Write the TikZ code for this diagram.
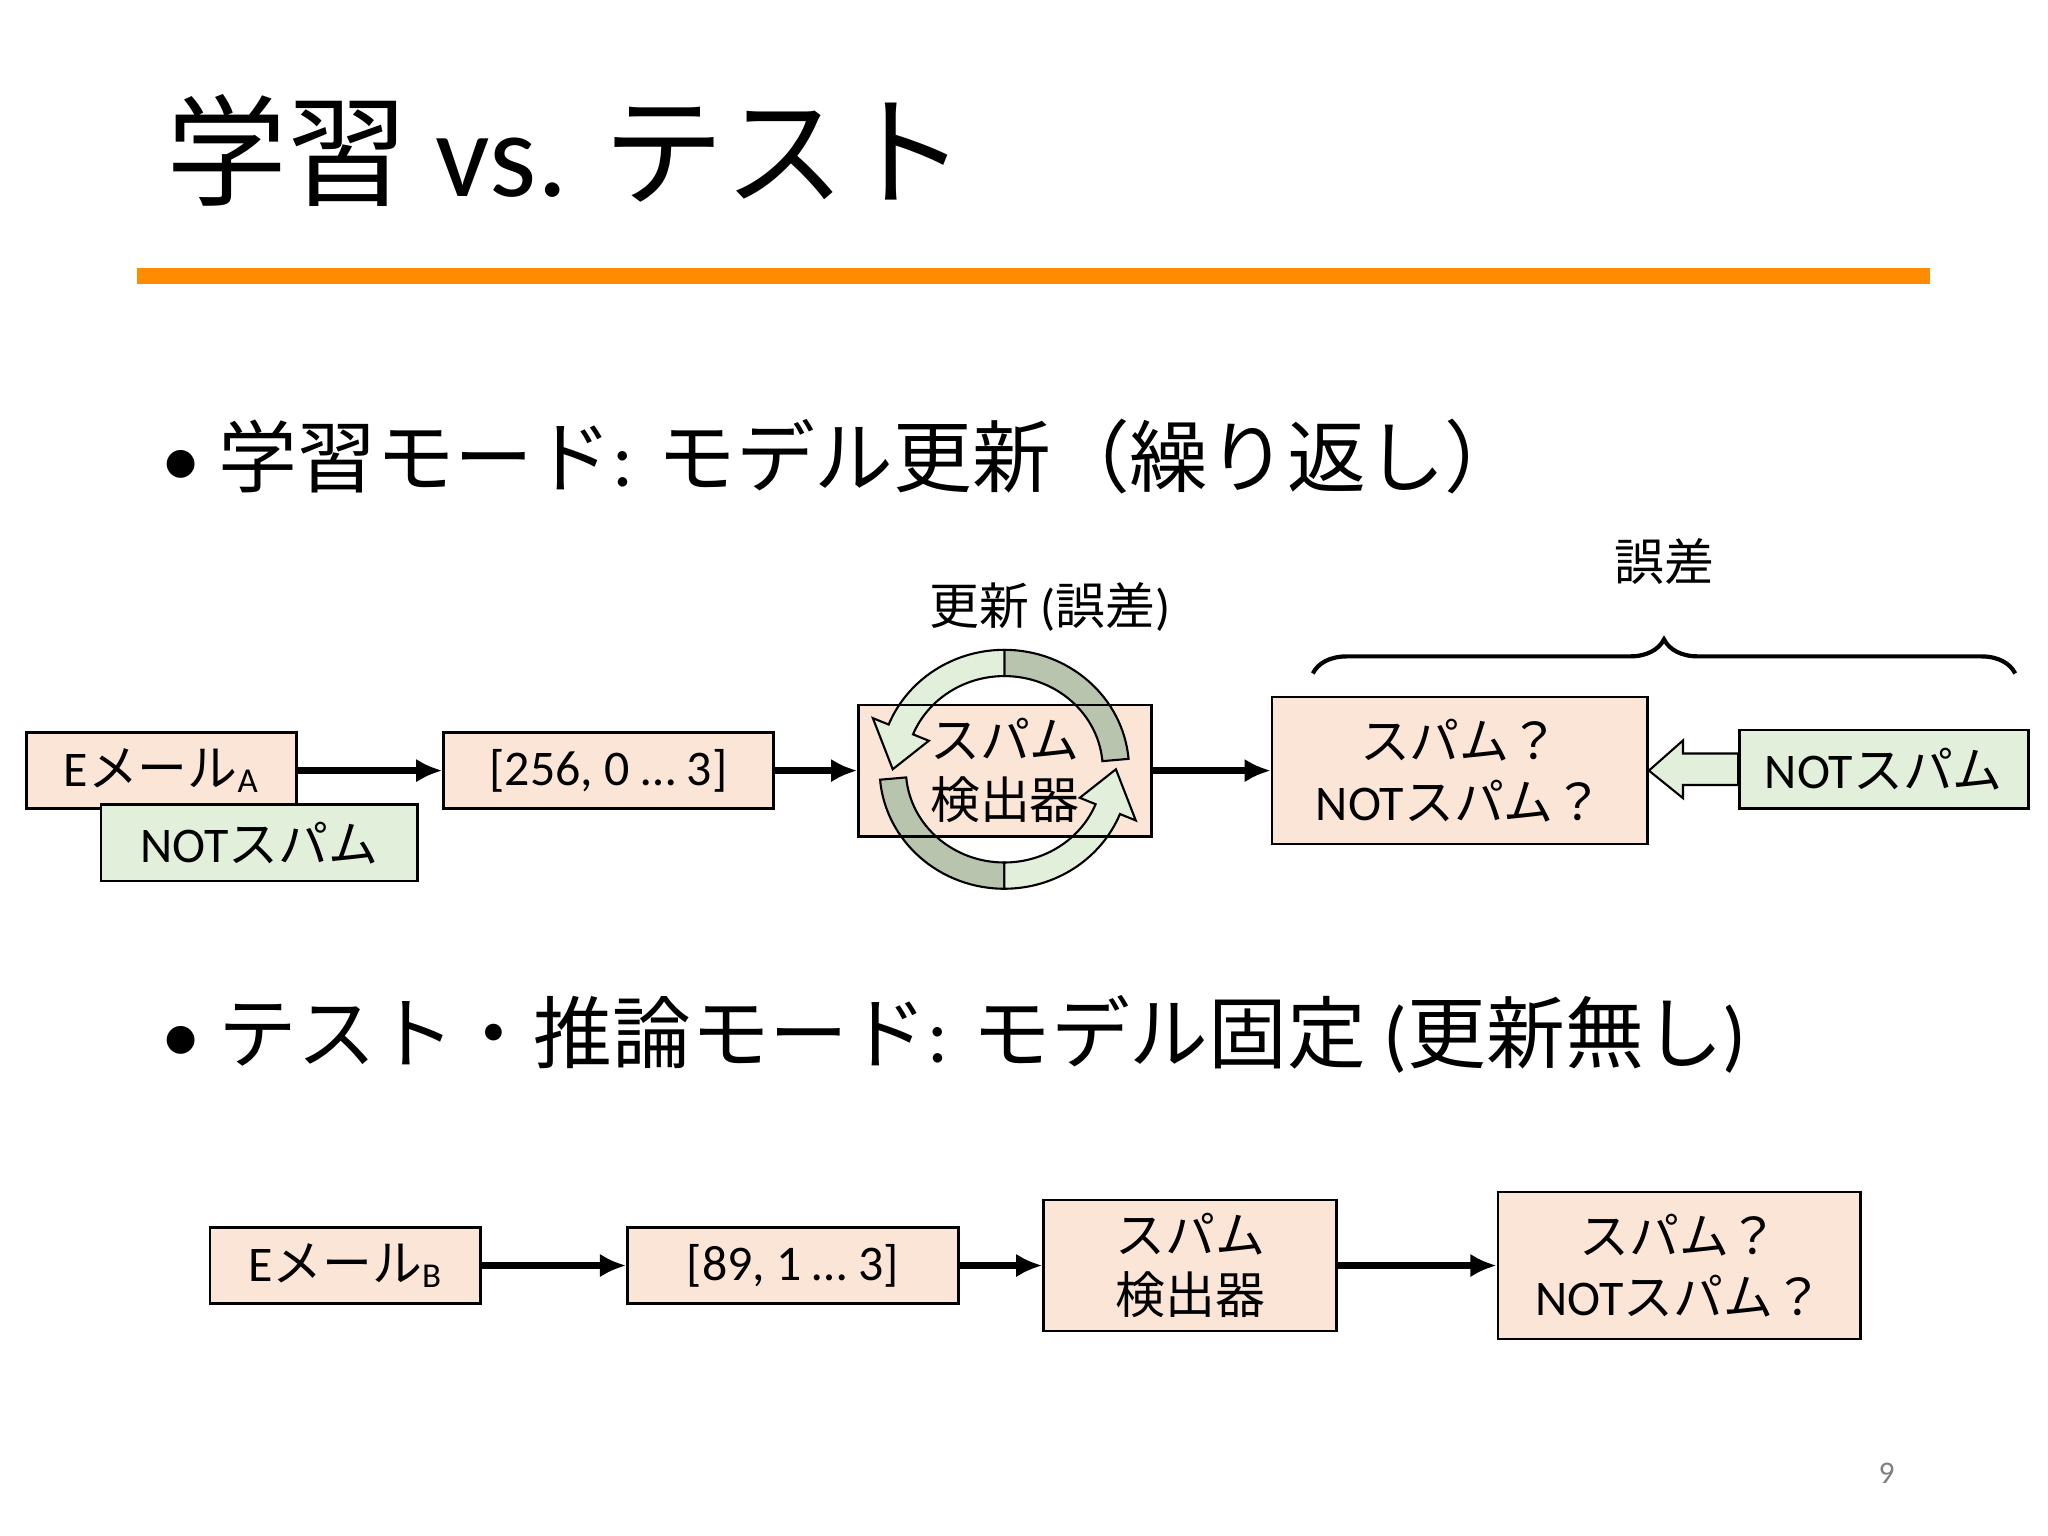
\documentclass[tikz,border=0pt]{standalone}
\usepackage{fontspec}
\setmainfont{Carlito}
\newfontfamily\jp{Noto Sans CJK JP}
\usetikzlibrary{calc,decorations.pathreplacing,arrows.meta}
\definecolor{peach}{RGB}{251,229,214}
\definecolor{leaf}{RGB}{226,239,218}
\definecolor{darkleaf}{RGB}{184,196,174}
\definecolor{rule}{RGB}{255,140,0}
\begin{document}
\begin{tikzpicture}[x=0.5pt,y=0.5pt,
  box/.style={draw, line width=1pt, inner sep=0pt, align=center, font=\fontsize{19}{23}\selectfont},
  pbox/.style={box, fill=peach},
  gbox/.style={box, fill=leaf},
  arr/.style={line width=2.6pt, -{Latex[length=10pt,width=9pt]}},
  band/.style={draw, line width=0.8pt}]
\useasboundingbox (0,0) rectangle (1560,1170);
% title and rule
\node[anchor=west, font=\fontsize{46}{50}\selectfont] (title) at (120,1055) {{\jp 学習} vs. {\jp テスト}};
\fill[rule] (104,954) rectangle (1470,966);
% bullets
\node[anchor=west, font=\fontsize{30}{35}\selectfont] (b1) at (116,822)
  {• {\jp 学習モード}: {\jp モデル更新（繰り返し）}};
\node[anchor=west, font=\fontsize{30}{35}\selectfont] (b2) at (116,382)
  {• {\jp テスト・推論モード}: {\jp モデル固定} ({\jp 更新無し})};
% learning row
\node[pbox, minimum width=103pt, minimum height=29pt] (ea) at (123,583) {E{\jp メール}$_{\mathrm{A}}$};
\node[gbox, minimum width=120.5pt, minimum height=29pt] (na) at (197.5,528) {NOT{\jp スパム}};
\node[pbox, minimum width=125.5pt, minimum height=29pt] (v1) at (463.5,583) {[256, 0 … 3]};
\fill[peach] (654,533) rectangle (877,633);
% update cycle
\coordinate (C) at (765,584);
\foreach \r in {0,180}{
  \filldraw[band, fill=darkleaf] ($(C)+(5+\r:95 and 91)$) arc[start angle=5+\r,end angle=90+\r,x radius=95,y radius=91]
    -- ($(C)+(90+\r:75 and 71)$) arc[start angle=90+\r,end angle=5+\r,x radius=75,y radius=71] -- cycle;
  \filldraw[band, fill=leaf] ($(C)+(90+\r:95 and 91)$) arc[start angle=90+\r,end angle=158+\r,x radius=95,y radius=91]
    -- ($(C)+(158+\r:108 and 104)$) -- ($(C)+(180+\r:85 and 81)$) -- ($(C)+(158+\r:62 and 58)$)
    -- ($(C)+(158+\r:75 and 71)$) arc[start angle=158+\r,end angle=90+\r,x radius=75,y radius=71] -- cycle;
}
\node[box, minimum width=111.5pt, minimum height=50pt] (d1) at (765.5,583) {{\jp スパム}\\{\jp 検出器}};
\node[font=\fontsize{19}{23}\selectfont] (upd) at (800,708) {{\jp 更新} ({\jp 誤差})};
\node[pbox, minimum width=143pt, minimum height=56pt] (o1) at (1112,583) {{\jp スパム？}\\NOT{\jp スパム？}};
\node[gbox, minimum width=110pt, minimum height=30pt] (n2) at (1435,584) {NOT{\jp スパム}};
\draw[arr] (ea.east |- 0,583) -- (v1.west);
\draw[arr] (v1) -- (d1);
\draw[arr] (d1) -- (o1);
% hollow feedback arrow
\filldraw[fill=leaf, line width=0.8pt] (n2.west |- 0,572) -- (1282,572) -- (1282,562) -- (o1.east)
  -- (1282,606) -- (1282,596) -- (n2.west |- 0,596) -- cycle;
% error brace
\coordinate (bl) at (1000,657);
\coordinate (br) at (1535,657);
\draw[line width=1.6pt, decorate, decoration={brace, amplitude=13pt}] (bl) -- (br);
\node[font=\fontsize{19}{23}\selectfont] (err) at (1268,742) {\jp 誤差};
% test row
\node[pbox, minimum width=103pt, minimum height=29pt] (eb) at (263,206) {E{\jp メール}$_{\mathrm{B}}$};
\node[pbox, minimum width=126pt, minimum height=29pt] (v2) at (604,206) {[89, 1 … 3]};
\node[pbox, minimum width=111.5pt, minimum height=50pt] (d2) at (906.5,206) {{\jp スパム}\\{\jp 検出器}};
\node[pbox, minimum width=138pt, minimum height=56pt] (o2) at (1279,206) {{\jp スパム？}\\NOT{\jp スパム？}};
\draw[arr] (eb) -- (v2);
\draw[arr] (v2) -- (d2);
\draw[arr] (d2) -- (o2);
% page number
\node[text=gray, font=\fontsize{12}{14}\selectfont] (pg) at (1437,48) {9};
\end{tikzpicture}
\end{document}
